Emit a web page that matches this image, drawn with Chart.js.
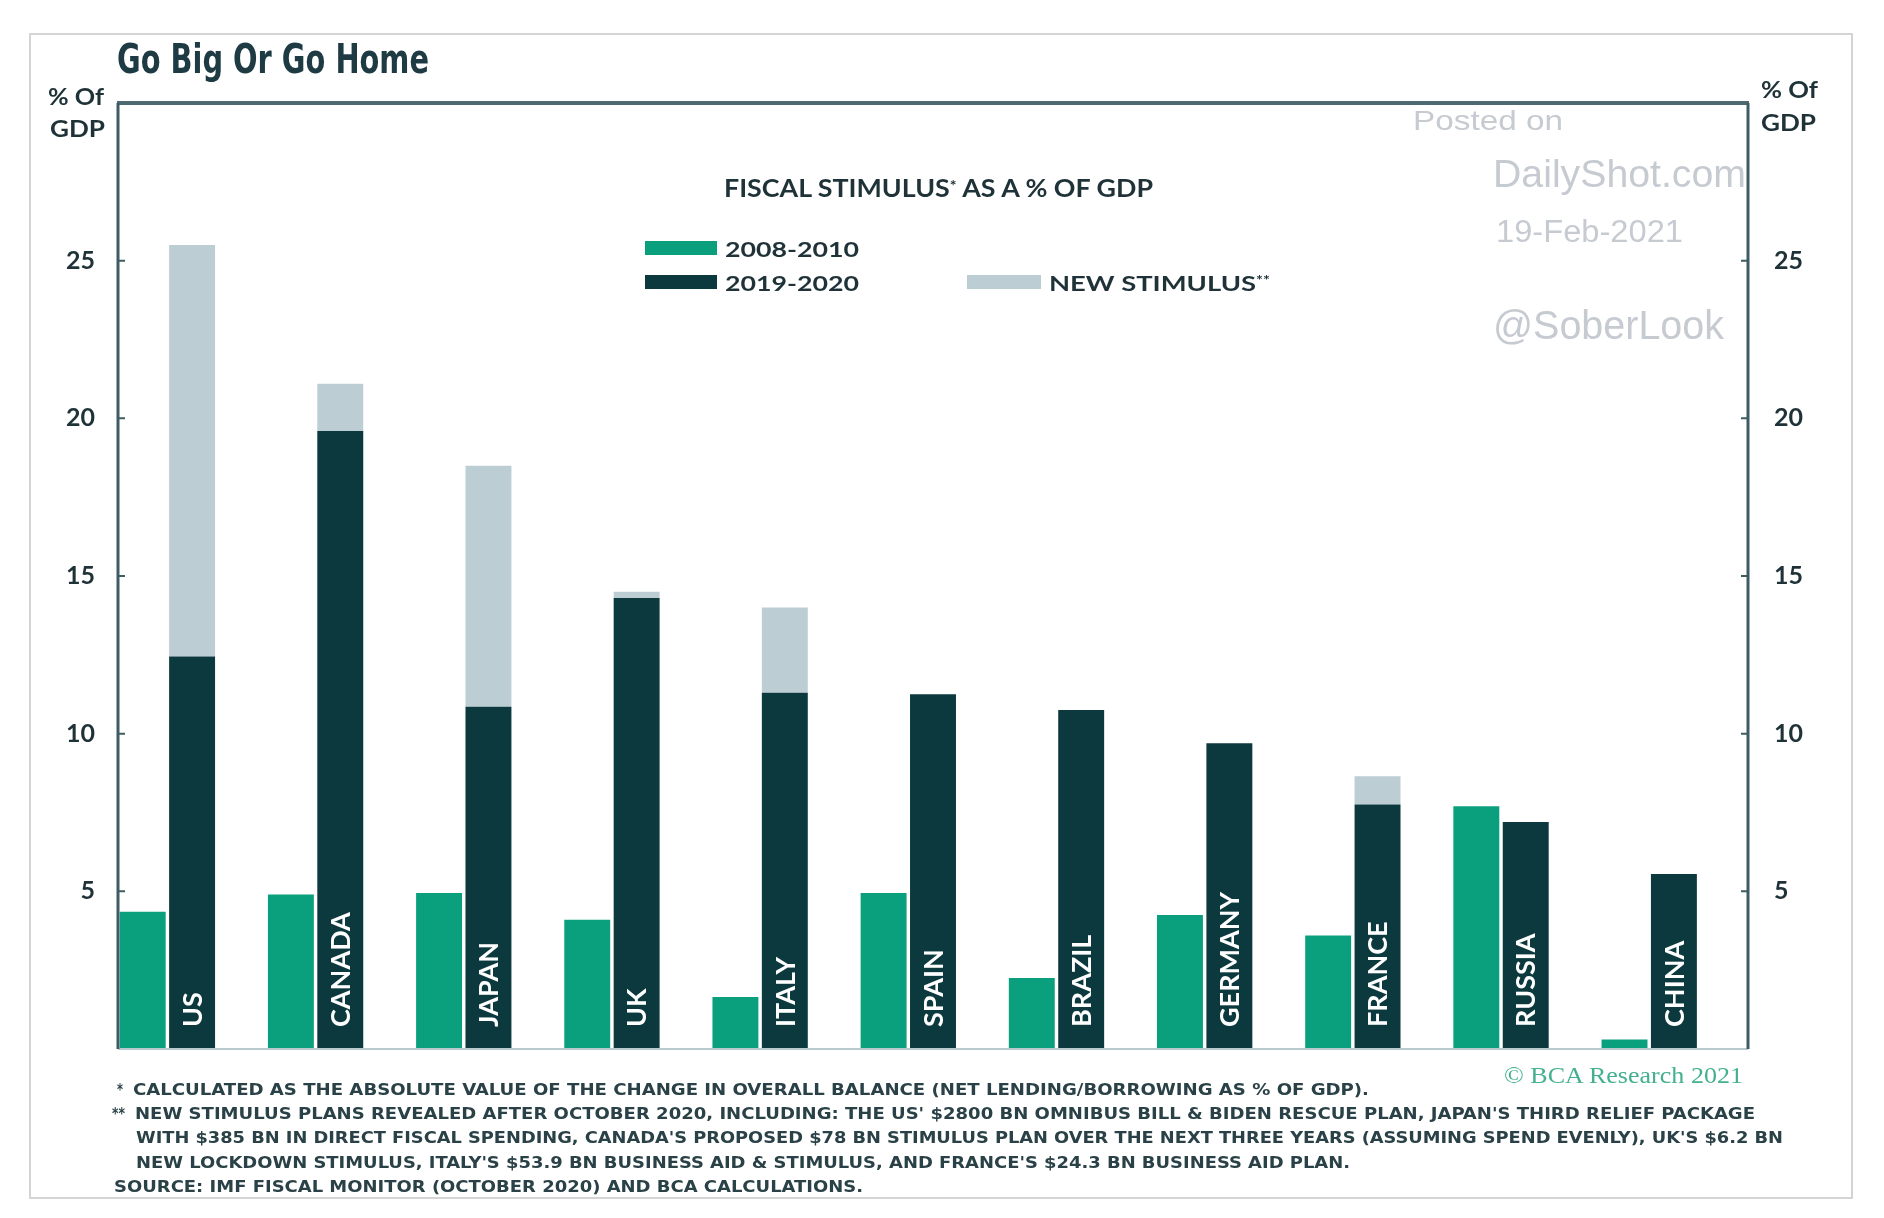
<!DOCTYPE html>
<html>
<head>
<meta charset="utf-8">
<title>Go Big Or Go Home</title>
<script src="https://cdn.jsdelivr.net/npm/chart.js@4.4.1/dist/chart.umd.min.js"></script>
<style>
  body { margin: 0; background: #fff; }
  #wrap { position: relative; width: 1884px; height: 1218px; overflow: hidden; background: #fff; }
  #frame { position: absolute; left: 29px; top: 33px; width: 1824px; height: 1166px; box-sizing: border-box; border: 2px solid #d4d4d4; }
  #box { position: absolute; left: 0; top: 0; width: 1884px; height: 1218px; }
  .sw { position: absolute; }
  sup { font-size: 0.6em; vertical-align: 0.45em; }
</style>
</head>
<body>
<div id="wrap">
  <div id="frame"></div>
  <div id="box"><canvas id="chart"></canvas></div>
  <div class="sw" style="left:645px;top:241px;width:72px;height:14px;background:#0aa07d"></div>
  <div class="sw" style="left:645px;top:275px;width:72px;height:14px;background:#0b393e"></div>
  <div class="sw" style="left:967px;top:275px;width:74px;height:14px;background:#bccdd4"></div>
</div>
<script>
// donnees du graphique
const countries = ['US', 'CANADA', 'JAPAN', 'UK', 'ITALY', 'SPAIN', 'BRAZIL', 'GERMANY', 'FRANCE', 'RUSSIA', 'CHINA'];
const stim0810 = [4.35, 4.9, 4.95, 4.1, 1.65, 4.95, 2.25, 4.25, 3.6, 7.7, 0.3];
const stim1920 = [12.45, 19.6, 10.85, 14.3, 11.3, 11.25, 10.75, 9.7, 7.75, 7.2, 5.55];
const newStim = [13.05, 1.5, 7.65, 0.2, 2.7, 0, 0, 0, 0.9, 0, 0];
const yTicks = [5, 10, 15, 20, 25];

const GREEN = '#0aa07d';
const DARK = '#0b393e';
const GREY = '#bccdd4';
const INK = '#1e3238';

const wrap = document.getElementById('wrap');

// texte HTML ajuste a une largeur donnee
function addText(html, x, yc, w, size, family, weight, color) {
  const el = document.createElement('div');
  el.innerHTML = html;
  el.style.cssText = 'position:absolute;white-space:nowrap;line-height:1;transform-origin:0 0;' +
    'font:' + weight + ' ' + size + 'px ' + family + ';color:' + color + ';left:' + x + 'px;top:' + (yc - size * 0.5) + 'px';
  wrap.appendChild(el);
  const nat = el.getBoundingClientRect().width;
  el.style.transform = 'scaleX(' + (w / nat) + ')';
  return el;
}

const COND = '"DejaVu Sans Condensed", "Liberation Sans Narrow", sans-serif';
const GEO = 'Lato, "Noto Sans", sans-serif';
const ARIAL = '"Liberation Sans", Arial, sans-serif';

addText('Go Big Or Go Home', 117, 56, 312, 40, COND, 'bold', '#1e3b44');
addText('% Of', 48, 94, 56, 22, GEO, 'bold', INK);
addText('GDP', 50, 126, 55, 22, GEO, 'bold', INK);
addText('% Of', 1761, 87, 57, 22, GEO, 'bold', INK);
addText('GDP', 1761, 120, 55, 22, GEO, 'bold', INK);

addText('FISCAL STIMULUS<sup>*</sup> AS A % OF GDP', 724, 185, 429, 24, GEO, 'bold', INK);
addText('2008-2010', 725, 246, 134, 21, GEO, 'bold', INK);
addText('2019-2020', 725, 280, 134, 21, GEO, 'bold', INK);
addText('NEW STIMULUS<sup>**</sup>', 1049, 280, 221, 21, GEO, 'bold', INK);

// filigrane
addText('Posted on', 1413, 119, 150, 28, ARIAL, 'normal', '#c6cad1');
addText('DailyShot.com', 1493, 171, 253, 39, ARIAL, 'normal', '#c6cad1');
addText('19-Feb-2021', 1496, 229, 187, 31, ARIAL, 'normal', '#c6cad1');
addText('@SoberLook', 1493, 323, 231, 40, ARIAL, 'normal', '#c6cad1');

addText('&copy; BCA Research 2021', 1504, 1074, 239, 24, '"Liberation Serif", serif', 'normal', '#45b08f');

// notes de bas de page
const FOOT = '#2a4247';
addText('*', 117, 1088, 6, 16, COND, 'bold', FOOT);
addText('CALCULATED AS THE ABSOLUTE VALUE OF THE CHANGE IN OVERALL BALANCE (NET LENDING/BORROWING AS % OF GDP).', 133, 1088, 1236, 16, COND, 'bold', FOOT);
addText('**', 112, 1112, 13, 16, COND, 'bold', FOOT);
addText('NEW STIMULUS PLANS REVEALED AFTER OCTOBER 2020, INCLUDING: THE US\' $2800 BN OMNIBUS BILL &amp; BIDEN RESCUE PLAN, JAPAN\'S THIRD RELIEF PACKAGE', 135, 1112, 1620, 16, COND, 'bold', FOOT);
addText('WITH $385 BN IN DIRECT FISCAL SPENDING, CANADA\'S PROPOSED $78 BN STIMULUS PLAN OVER THE NEXT THREE YEARS (ASSUMING SPEND EVENLY), UK\'S $6.2 BN', 136, 1136, 1647, 16, COND, 'bold', FOOT);
addText('NEW LOCKDOWN STIMULUS, ITALY\'S $53.9 BN BUSINESS AID &amp; STIMULUS, AND FRANCE\'S $24.3 BN BUSINESS AID PLAN.', 136, 1161, 1214, 16, COND, 'bold', FOOT);
addText('SOURCE: IMF FISCAL MONITOR (OCTOBER 2020) AND BCA CALCULATIONS.', 114, 1185, 749, 16, COND, 'bold', FOOT);

// cadre, petits traits et noms des pays
const decor = {
  id: 'decor',
  afterDatasetsDraw(chart) {
    const ctx = chart.ctx;
    const a = chart.chartArea;
    const y = chart.scales.y;
    ctx.save();
    // noms des pays dans les barres foncees
    const meta = chart.getDatasetMeta(1);
    ctx.fillStyle = '#ffffff';
    ctx.font = 'bold 27px Lato, "Noto Sans", sans-serif';
    ctx.textAlign = 'left';
    ctx.textBaseline = 'middle';
    meta.data.forEach((bar, i) => {
      ctx.save();
      ctx.translate(bar.x + 1, a.bottom - 22);
      ctx.rotate(-Math.PI / 2);
      ctx.fillText(countries[i], 0, 0);
      ctx.restore();
    });
    // cadre
    ctx.lineCap = 'butt';
    ctx.strokeStyle = '#b9c9cf';
    ctx.lineWidth = 2;
    ctx.beginPath();
    ctx.moveTo(a.left, a.bottom);
    ctx.lineTo(a.right, a.bottom);
    ctx.stroke();
    ctx.strokeStyle = '#4d6a72';
    ctx.lineWidth = 4;
    ctx.beginPath();
    ctx.moveTo(a.left - 1, a.top);
    ctx.lineTo(a.right + 1, a.top);
    ctx.stroke();
    ctx.strokeStyle = '#3f5c64';
    ctx.lineWidth = 3;
    ctx.beginPath();
    ctx.moveTo(a.left, a.top);
    ctx.lineTo(a.left, a.bottom);
    ctx.moveTo(a.right, a.top);
    ctx.lineTo(a.right, a.bottom);
    ctx.stroke();
    // traits vers l'interieur
    ctx.lineWidth = 2;
    yTicks.forEach(v => {
      const py = y.getPixelForValue(v);
      ctx.beginPath();
      ctx.moveTo(a.left, py);
      ctx.lineTo(a.left + 7, py);
      ctx.moveTo(a.right, py);
      ctx.lineTo(a.right - 7, py);
      ctx.stroke();
    });
    ctx.restore();
  }
};

function fixY(scale) {
  scale.width = 70;
  scale.paddingTop = 0;
  scale.paddingBottom = 0;
}

const tickOpts = {
  stepSize: 5,
  color: INK,
  font: { family: 'Lato, "Noto Sans", sans-serif', size: 25, weight: 'bold' },
  callback: v => yTicks.includes(v) ? String(v) : ''
};

new Chart(document.getElementById('chart'), {
  type: 'bar',
  data: {
    labels: countries,
    datasets: [
      { label: '2008-2010', data: stim0810, backgroundColor: GREEN, stack: 'a' },
      { label: '2019-2020', data: stim1920, backgroundColor: DARK, stack: 'b' },
      { label: 'NEW STIMULUS**', data: newStim, backgroundColor: GREY, stack: 'b' },
      { label: 'spacer', data: countries.map(() => 0), backgroundColor: 'rgba(0,0,0,0)', stack: 'c' }
    ]
  },
  options: {
    responsive: true,
    maintainAspectRatio: false,
    animation: false,
    devicePixelRatio: 1,
    layout: { padding: { left: 48, right: 66, top: 103, bottom: 169 } },
    datasets: { bar: { categoryPercentage: 1, barPercentage: 0.93, borderWidth: 0 } },
    plugins: { legend: { display: false }, tooltip: { enabled: false } },
    scales: {
      x: {
        stacked: true,
        grid: { display: false, drawTicks: false },
        border: { display: false },
        ticks: { display: false },
        afterFit(scale) {
          scale.height = 0;
          scale.paddingLeft = 0;
          scale.paddingRight = 0;
        }
      },
      y: {
        stacked: true,
        min: 0,
        max: 30,
        grid: { display: false, drawTicks: false },
        border: { display: false },
        ticks: Object.assign({ padding: 23 }, tickOpts),
        afterFit: fixY
      },
      y2: {
        position: 'right',
        min: 0,
        max: 30,
        grid: { display: false, drawTicks: false },
        border: { display: false },
        ticks: Object.assign({ padding: 26 }, tickOpts),
        afterFit: fixY
      }
    }
  },
  plugins: [decor]
});
</script>
</body>
</html>
